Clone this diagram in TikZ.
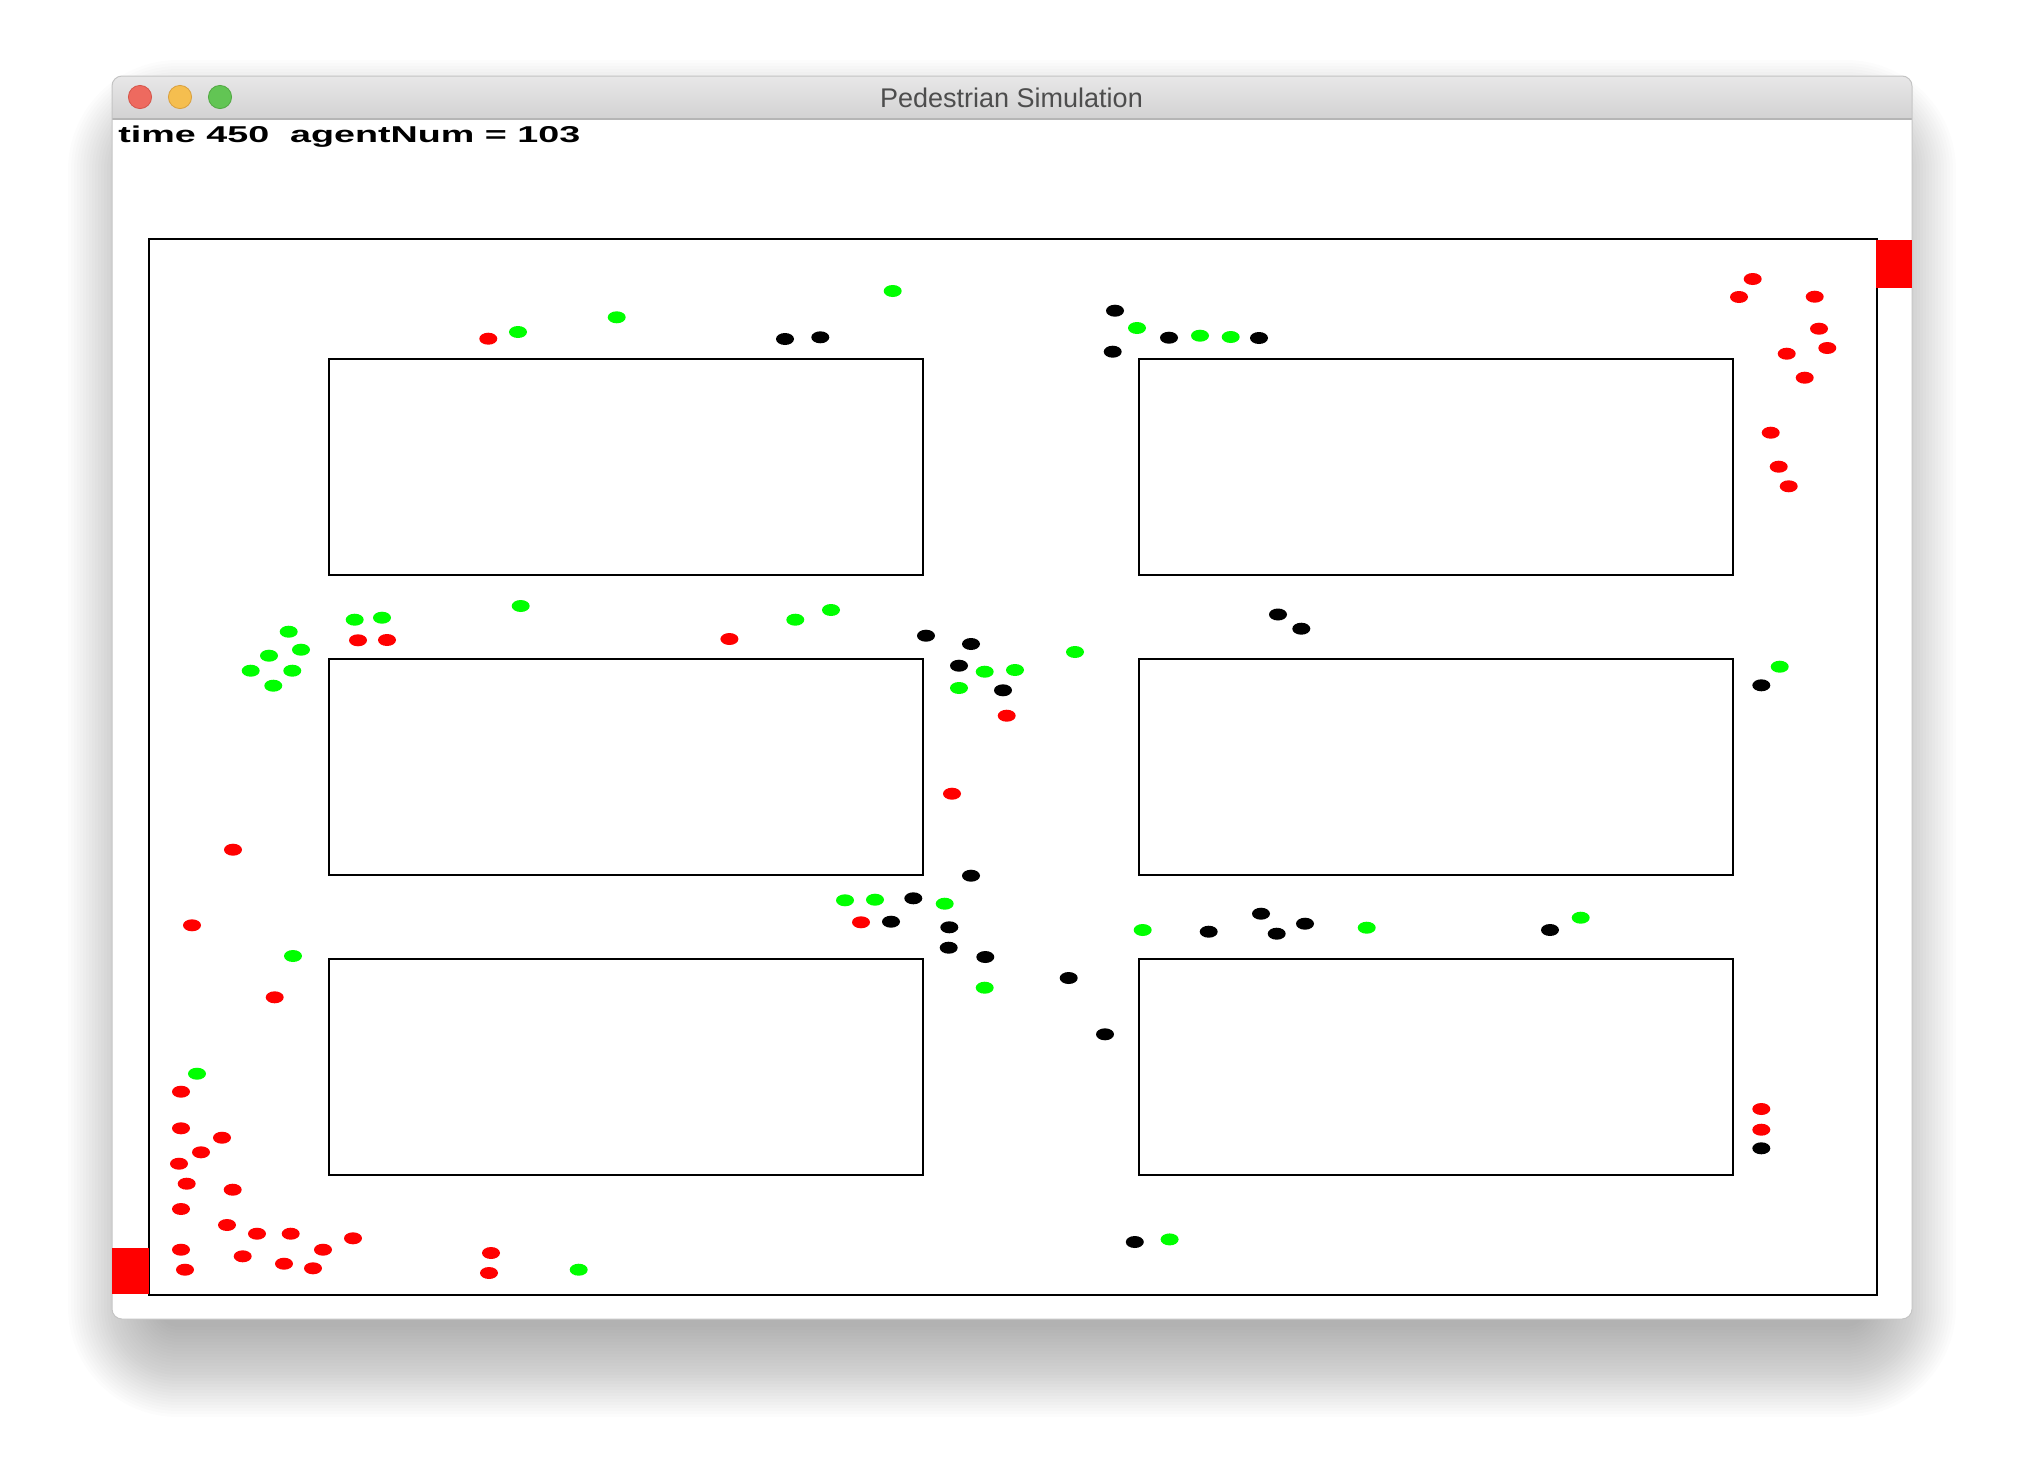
\documentclass[tikz,border=0pt]{standalone}
\usepackage{fontspec}
\setmainfont{Liberation Sans}
\definecolor{titletxt}{HTML}{4D4D4D}
\definecolor{barTop}{HTML}{E8E7E8}
\definecolor{barBot}{HTML}{D2D2D2}
\definecolor{barLine}{HTML}{B5B5B5}
\definecolor{winEdge}{HTML}{C4C4C4}
\definecolor{tlRed}{HTML}{EE6A5F}
\definecolor{tlRedE}{HTML}{D5554A}
\definecolor{tlYel}{HTML}{F5BE4F}
\definecolor{tlYelE}{HTML}{D9A03E}
\definecolor{tlGrn}{HTML}{62C554}
\definecolor{tlGrnE}{HTML}{52A843}
\definecolor{agRed}{HTML}{FF0000}
\definecolor{agGreen}{HTML}{00FF00}
\definecolor{agBlack}{HTML}{000000}
\tikzset{
  wall/.style={draw=black, line width=1pt},
  exitbox/.style={fill=agRed},
  light/.style={line width=0.4pt},
}
\newcommand{\agentdot}[3]{\fill[#1] (#2,#3) ellipse [x radius=4.5pt, y radius=3pt];}
\begin{document}
\begin{tikzpicture}[x=0.5pt, y=-0.5pt]
\useasboundingbox (0,0) rectangle (2024,1468);
% soft window shadow
\foreach \e [evaluate=\e as \r using (\e+20)*0.5] in {0,3,...,90}{
  \fill[black, opacity=0.0115, rounded corners=\r pt] ({158-\e},{150-\e}) rectangle ({1866+\e},{1327+\e});
}
% window body
\fill[white, rounded corners=5pt] (112,76) rectangle (1912,1319);
\begin{scope}
  \clip[rounded corners=5pt] (112,76) rectangle (1912,1319);
  \shade[top color=barTop, bottom color=barBot] (112,76) rectangle (1912,119);
\end{scope}
\draw[barLine, line width=0.6pt] (112,119) -- (1912,119);
\draw[winEdge, line width=0.5pt, rounded corners=5pt] (112,76) rectangle (1912,1319);
% traffic lights
\filldraw[light, fill=tlRed, draw=tlRedE] (140,97) circle [radius=5.8pt];
\filldraw[light, fill=tlYel, draw=tlYelE] (180,97) circle [radius=5.8pt];
\filldraw[light, fill=tlGrn, draw=tlGrnE] (220,97) circle [radius=5.8pt];
% title
\node[text=titletxt, font=\fontsize{13.5pt}{16pt}\selectfont, inner sep=0pt] (title) at (1011.5,98) {Pedestrian Simulation};
% status text
\node[anchor=base west, inner sep=0pt] (status) at (118,142)
  {\resizebox{231pt}{8.3pt}{\bfseries time 450\ \ agentNum = 103}};
% outer boundary
\draw[wall] (149,239) rectangle (1877,1295);
% exits
\fill[exitbox] (1876,240) rectangle (1912,288);
\fill[exitbox] (112,1248) rectangle (148.5,1294);
% obstacles
\draw[wall] (329,359) rectangle (923,575);
\draw[wall] (1139,359) rectangle (1733,575);
\draw[wall] (329,659) rectangle (923,875);
\draw[wall] (1139,659) rectangle (1733,875);
\draw[wall] (329,959) rectangle (923,1175);
\draw[wall] (1139,959) rectangle (1733,1175);
% red agents
\foreach \px/\py in {488.3/338.7,
  1752.7/279,1739/297,1814.7/296.7,1819/328.7,1827.3/348,1786.7/353.7,1804.7/377.7,1770.7/432.7,1778.7/466.7,1788.7/486.3,
  358/640.3,387/640,729.4/639,1006.7/715.7,952/793.7,861/922.3,
  233/849.7,192/925.3,274.7/997.3,
  1761.3/1109,1761.3/1129.7,491/1253,489/1273,
  181/1091.7,181/1128.3,222/1137.7,201/1152.3,179/1163.7,186.7/1183.7,232.7/1189.7,181/1209,227/1225,
  257/1233.7,290.7/1233.7,353/1238.3,181/1249.7,323/1249.7,242.7/1256.3,284/1263.7,313/1268.3,185/1269.7}{
  \agentdot{agRed}{\px}{\py}
}
% green agents
\foreach \px/\py in {518/332,616.7/317.3,892.7/291,1137/328,1200/335.7,1230.7/337,
  288.7/631.7,301/649.7,269/655.7,250.7/670.7,292.3/670.7,273.3/685.7,354.7/619.7,382/617.7,520.7/606,
  795.3/619.7,831/610,1075/652,984.7/671.7,1015/670,959/688,1779.7/666.7,
  845/900.3,875/899.7,944.7/903.7,984.7/987.7,1142.7/930,1366.7/927.7,1580.7/917.7,
  293/956,1169.6/1239.4,578.7/1269.7,197/1073.7}{
  \agentdot{agGreen}{\px}{\py}
}
% black agents
\foreach \px/\py in {785/339,820.3/337.3,1115/310.7,1112.7/351.7,1169/337.7,1259/338,
  926/635.7,971/644,959/665.7,1003/690.3,1278/614.5,1301.3/628.7,1761.3/685.3,
  971/875.7,913.3/898.3,891/921.7,949.3/927.3,948.7/947.7,985.3/957,1068.7/978,1105/1034.3,
  1208.7/931.7,1261/913.7,1276.7/933.7,1305/923.7,1550/930,1761.3/1148.3,1134.8/1242}{
  \agentdot{agBlack}{\px}{\py}
}
\end{tikzpicture}
\end{document}
